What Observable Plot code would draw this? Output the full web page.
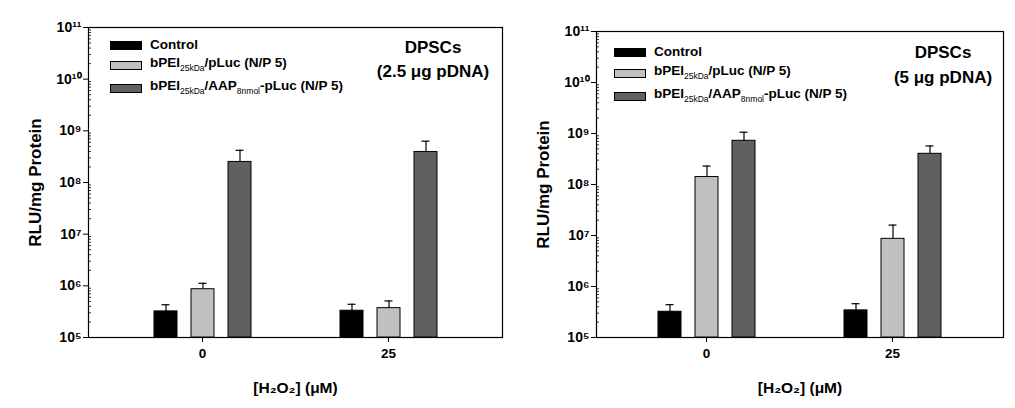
<!DOCTYPE html>
<html>
<head>
<meta charset="utf-8">
<script src="https://cdn.jsdelivr.net/npm/d3@7"></script>
<script src="https://cdn.jsdelivr.net/npm/@observablehq/plot@0.6"></script>
<style>
  html, body { margin: 0; padding: 0; background: #fff; }
  #wrap { position: relative; width: 1015px; height: 408px; overflow: hidden;
          font-family: "Liberation Sans", Arial, sans-serif; font-weight: bold; color: #000; }
  .panel { position: absolute; top: 0; }
  .row { position: absolute; height: 16px; line-height: 16px; font-size: 13.5px; white-space: nowrap; display: flex; align-items: center; }
  .sw { display: inline-block; width: 30px; height: 7px; border: 1px solid #000; margin-right: 8px; }
  .row sub { font-size: 8.5px; vertical-align: -4px; font-weight: normal; }
  .note { position: absolute; font-size: 17px; text-align: center; transform: translate(-50%, -50%); white-space: nowrap; line-height: 20px; }
</style>
</head>
<body>
<div id="wrap"></div>
<script>
// ---- data ----
const groups = ["0", "25"];                       // [H2O2] (µM)
const series = ["Control", "bPEI25kDa/pLuc (N/P 5)", "bPEI25kDa/AAP8nmol-pLuc (N/P 5)"];
const colors = ["#000000", "#c0c0c0", "#606060"];
const baseline = 1e5;
const yTicks = [1e5, 1e6, 1e7, 1e8, 1e9, 1e10, 1e11];

// Panel A: 2.5 µg pDNA  (mean, upper error-bar end) per group
const a_control = [3.2e5, 3.3e5];
const a_control_err = [4.3e5, 4.4e5];
const a_bpei = [8.6e5, 3.7e5];
const a_bpei_err = [1.12e6, 5.1e5];
const a_aap = [2.5e8, 3.9e8];
const a_aap_err = [4.2e8, 6.3e8];

// Panel B: 5 µg pDNA
const b_control = [3.2e5, 3.4e5];
const b_control_err = [4.4e5, 4.6e5];
const b_bpei = [1.4e8, 8.6e6];
const b_bpei_err = [2.3e8, 1.6e7];
const b_aap = [7.2e8, 4.0e8];
const b_aap_err = [1.06e9, 5.7e8];

function rowsOf(vals, errs) {
  const out = [];
  groups.forEach((g, gi) => series.forEach((s, si) => out.push({group: g, series: s, value: vals[si][gi], err: errs[si][gi]})));
  return out;
}
const dataA = rowsOf([a_control, a_bpei, a_aap], [a_control_err, a_bpei_err, a_aap_err]);
const dataB = rowsOf([b_control, b_bpei, b_aap], [b_control_err, b_bpei_err, b_aap_err]);

const minorTicks = [];
for (let e = 5; e < 11; e++) for (let m = 2; m <= 9; m++) minorTicks.push(m * Math.pow(10, e));

const supDigits = "⁰¹²³⁴⁵⁶⁷⁸⁹";
const sup = d => "10" + String(Math.round(Math.log10(d))).split("").map(c => supDigits[+c]).join("");

const font = {fontFamily: "'Liberation Sans', Arial, sans-serif", fontWeight: "bold", color: "#000", background: "transparent", overflow: "visible"};

// base layer: frame, axes, labels
function basePlot({width, marginLeft, marginRight, marginTop, po}) {
  return Plot.plot({
    width, height: 408, marginLeft, marginRight, marginTop, marginBottom: 71,
    style: font,
    x: {domain: groups, type: "band", paddingInner: 0.3, paddingOuter: po},
    y: {type: "log", domain: [1e5, 1e11]},
    marks: [
      Plot.frame({stroke: "#000", strokeWidth: 1.2}),
      Plot.axisY({ticks: yTicks, tickSize: 5, tickPadding: 2, tickFormat: sup, fontSize: 14, label: null}),
      Plot.axisY({ticks: minorTicks, tickSize: 3, dx: 3, tickFormat: () => "", label: null, strokeWidth: 0.8}),
      Plot.axisY({ticks: [], label: "RLU/mg Protein", labelAnchor: "center", labelOffset: 60, fontSize: 17, labelArrow: "none"}),
      Plot.axisX({tickSize: 5, tickPadding: 6, fontSize: 13.5, label: null}),
      Plot.axisX({ticks: [], label: "[H₂O₂] (μM)", labelAnchor: "center", labelOffset: 55, fontSize: 15.5, labelArrow: "none"})
    ]
  });
}

// bar layer: bars grouped by facet
function barPlot(data, {width, marginLeft, marginRight, marginTop, po}) {
  return Plot.plot({
    width, height: 408, marginLeft, marginRight, marginTop, marginBottom: 71,
    style: font,
    fx: {domain: groups, paddingInner: 0.3, paddingOuter: po, axis: null, label: null},
    x: {domain: series, paddingInner: 0.39, paddingOuter: 0.42, axis: null},
    y: {type: "log", domain: [1e5, 1e11], axis: null},
    color: {domain: series, range: colors},
    marks: [
      Plot.barY(data, {fx: "group", x: "series", y1: baseline, y2: "value", fill: "series", stroke: "#000", strokeWidth: 1}),
      Plot.ruleX(data, {fx: "group", x: "series", y1: "value", y2: "err", stroke: "#000", strokeWidth: 1.2}),
      Plot.tickY(data, {fx: "group", x: "series", y: "err", insetLeft: 7.5, insetRight: 7.5, stroke: "#000", strokeWidth: 1.2})
    ]
  });
}

const wrap = document.getElementById("wrap");
function addLayer(left, svg) {
  const d = document.createElement("div");
  d.className = "panel"; d.style.left = left + "px";
  d.appendChild(svg); wrap.appendChild(d);
}
const optA = {width: 508, marginLeft: 88, marginRight: 6, marginTop: 27, po: 0.257};
const optB = {width: 507, marginLeft: 88, marginRight: 12, marginTop: 31, po: 0.244};
addLayer(0, basePlot(optA));
addLayer(0, barPlot(dataA, optA));
addLayer(508, basePlot(optB));
addLayer(508, barPlot(dataB, optB));

const labelsHTML = [
  "Control",
  "bPEI<sub>25kDa</sub>/pLuc (N/P 5)",
  "bPEI<sub>25kDa</sub>/AAP<sub>8nmol</sub>-pLuc (N/P 5)"
];
function addLegend(x, ys) {
  labelsHTML.forEach((h, i) => {
    const r = document.createElement("div");
    r.className = "row"; r.style.left = x + "px"; r.style.top = (ys[i] - 8) + "px";
    r.innerHTML = `<span class="sw" style="background:${colors[i]}"></span><span>${h}</span>`;
    wrap.appendChild(r);
  });
}
addLegend(110, [45, 65.5, 88]);
addLegend(614, [52, 73, 96]);
function addNote(x, y, text) {
  const n = document.createElement("div");
  n.className = "note"; n.style.left = x + "px"; n.style.top = y + "px"; n.textContent = text;
  wrap.appendChild(n);
}
addNote(433, 48, "DPSCs"); addNote(433, 72, "(2.5 μg pDNA)");
addNote(943, 53, "DPSCs"); addNote(943, 78, "(5 μg pDNA)");
</script>
</body>
</html>
